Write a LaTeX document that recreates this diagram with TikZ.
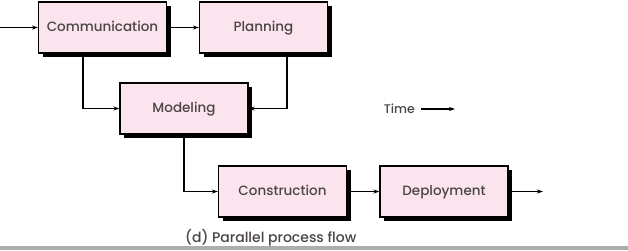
\documentclass[tikz,border=0pt]{standalone}
\usepackage{fontspec}
\setmainfont{Poppins Medium}
\usetikzlibrary{arrows.meta,shadows}
\definecolor{boxfill}{HTML}{FBE4EE}
\definecolor{inktext}{HTML}{4A4444}
\begin{document}
\begin{tikzpicture}[x=1pt,y=-1pt,
  stage/.style={draw=black,line width=1.1pt,fill=boxfill,minimum width=128pt,minimum height=51pt,
    font=\fontsize{13.5}{15}\selectfont,text=inktext,inner sep=0pt,text height=9.5pt,text depth=1pt,
    drop shadow={shadow xshift=4pt,shadow yshift=-4pt,fill=black,opacity=1}},
  flow/.style={line width=1.1pt,-{Stealth[length=6pt,width=4pt]}},
  label/.style={font=\fontsize{12.5}{15}\selectfont,text=inktext,inner sep=0pt}]
\useasboundingbox (0,0) rectangle (628,250);
\fill[white] (0,0) rectangle (628,250);
\fill[black!32] (0,246) rectangle (628,250);
\node[stage] (comm) at (102.5,27.5) {Communication};
\node[stage] (plan) at (263.5,27.5) {Planning};
\node[stage] (model) at (184,108.5) {Modeling};
\node[stage] (cons) at (282.5,191.5) {Construction};
\node[stage] (depl) at (444,191.5) {Deployment};
\coordinate (in) at (0,27.5);
\coordinate (out) at (543,191.5);
\draw[flow] (in) -- (comm);
\draw[flow] (comm) -- (plan);
\draw[flow] (comm.south -| 83,0) |- (model.west);
\draw[flow] (plan.south -| 287,0) |- (model.east);
\draw[flow] (model.south) |- (cons.west);
\draw[flow] (cons) -- (depl);
\draw[flow] (depl) -- (out);
\node[label,anchor=east] (time) at (415,109) {Time};
\coordinate (timestart) at (421,109);
\coordinate (timeend) at (455,109);
\draw[flow] (timestart) -- (timeend);
\node[label,font=\fontsize{14}{16}\selectfont,anchor=west] (cap) at (185,238) {(d) Parallel process flow};
\end{tikzpicture}
\end{document}
